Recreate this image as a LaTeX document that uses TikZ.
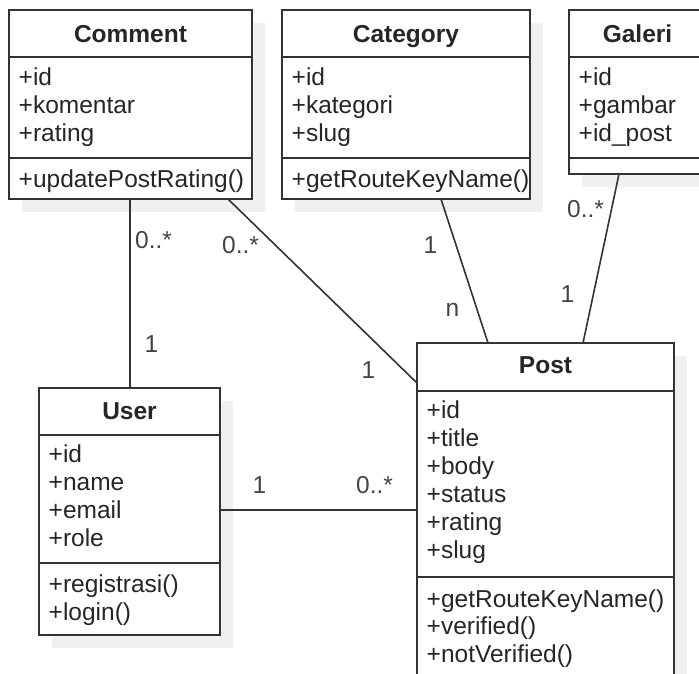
\documentclass[tikz,border=0pt]{standalone}
\usepackage{fontspec}
\setmainfont{Liberation Sans}
\definecolor{linec}{HTML}{333333}
\definecolor{txtc}{HTML}{262626}
\definecolor{multc}{HTML}{444444}
\definecolor{shadec}{HTML}{F0F0F0}
% class box: shadow, then the framed node
\newcommand\umlbox[5]{%
  \fill[shade] ({#2+13},{#3+13}) rectangle ({#2+#4+13},{#3+#5+13});
  \node[box, minimum width=#4pt, minimum height=#5pt] (#1) at (#2,#3) {};
}
\begin{document}
\begin{tikzpicture}[x=1pt,y=-1pt,
  line/.style={draw=linec, line width=1.6pt},
  box/.style={line, fill=white, rectangle, inner sep=0pt, outer sep=0pt, anchor=north west},
  shade/.style={fill=shadec, draw=none},
  title/.style={font=\bfseries\fontsize{24.5}{28}\selectfont, text=txtc, anchor=base, inner sep=0pt},
  attr/.style={font=\fontsize{24.5}{28}\selectfont, text=txtc, anchor=base west, inner sep=0pt},
  mult/.style={font=\fontsize{24.5}{28}\selectfont, text=multc, anchor=base west, inner sep=0pt}]
\useasboundingbox (0,0) rectangle (699,673);
\clip (0,0) rectangle (699,673);

% ---------- classes ----------
\umlbox{comment}{9}{10}{243}{189}
\umlbox{category}{282}{10}{248}{189}
\umlbox{galeri}{569}{10}{137}{164}
\umlbox{user}{39}{388}{181}{247}
\umlbox{post}{417}{343}{257}{380}

% compartments
\draw[line] (9,57) -- (252,57) (9,158) -- (252,158);
\draw[line] (282,57) -- (530,57) (282,158) -- (530,158);
\draw[line] (569,57) -- (706,57) (569,158) -- (706,158);
\draw[line] (39,435) -- (220,435) (39,563) -- (220,563);
\draw[line] (417,391) -- (674,391) (417,577) -- (674,577);

% titles
\node[title] (comment-t) at (130.5,42) {Comment};
\node[title] (category-t) at (406,42) {Category};
\node[title] (galeri-t) at (637.5,42) {Galeri};
\node[title] (user-t) at (129.5,419) {User};
\node[title] (post-t) at (545.5,373) {Post};

% members
\foreach \t [count=\i from 0] in {+id,+komentar,+rating}
  \node[attr] (comment-a\i) at (18.5,85+28*\i) {\t};
\node[attr] (comment-m0) at (18.5,187) {+updatePostRating()};

\foreach \t [count=\i from 0] in {+id,+kategori,+slug}
  \node[attr] (category-a\i) at (291.5,85+28*\i) {\t};
\node[attr] (category-m0) at (291.5,187) {+getRouteKeyName()};

\foreach \t [count=\i from 0] in {+id,+gambar,+id\_post}
  \node[attr] (galeri-a\i) at (578.5,85+28*\i) {\t};

\foreach \t [count=\i from 0] in {+id,+name,+email,+role}
  \node[attr] (user-a\i) at (48.5,462+28.3*\i) {\t};
\foreach \t [count=\i from 0] in {+registrasi(),+login()}
  \node[attr] (user-m\i) at (48.5,592+28*\i) {\t};

\foreach \t [count=\i from 0] in {+id,+title,+body,+status,+rating,+slug}
  \node[attr] (post-a\i) at (426.5,418+28*\i) {\t};
\foreach \t [count=\i from 0] in {+getRouteKeyName(),+verified(),+notVerified()}
  \node[attr] (post-m\i) at (426.5,607+27.5*\i) {\t};

% ---------- associations ----------
\coordinate (cu-a) at ([xshift=121pt]comment.south west);
\coordinate (cu-b) at ([xshift=91pt]user.north west);
\coordinate (cp-a) at ([xshift=219pt]comment.south west);
\coordinate (cp-b) at ([yshift=-40pt]post.north west);
\coordinate (kp-a) at ([xshift=159pt]category.south west);
\coordinate (kp-b) at ([xshift=71pt]post.north west);
\coordinate (gp-a) at ([xshift=50pt]galeri.south west);
\coordinate (gp-b) at ([xshift=166pt]post.north west);
\coordinate (up-a) at ([yshift=-122pt]user.north east);
\coordinate (up-b) at ([yshift=-167pt]post.north west);

\draw[line] (cu-a) -- (cu-b);
\draw[line] (cp-a) -- (cp-b);
\draw[line] (kp-a) -- (kp-b);
\draw[line] (gp-a) -- (gp-b);
\draw[line] (up-a) -- (up-b);

% multiplicities
\node[mult] (cu-ma) at (135,248) {0..*};
\node[mult] (cu-mb) at (144.5,352) {1};
\node[mult] (cp-ma) at (222,253) {0..*};
\node[mult] (cp-mb) at (361.5,378) {1};
\node[mult] (kp-ma) at (423.5,253) {1};
\node[mult] (kp-mb) at (445.5,316) {n};
\node[mult] (gp-ma) at (567,217) {0..*};
\node[mult] (gp-mb) at (560.5,302) {1};
\node[mult] (up-ma) at (252.5,493) {1};
\node[mult] (up-mb) at (356,493) {0..*};
\end{tikzpicture}
\end{document}
